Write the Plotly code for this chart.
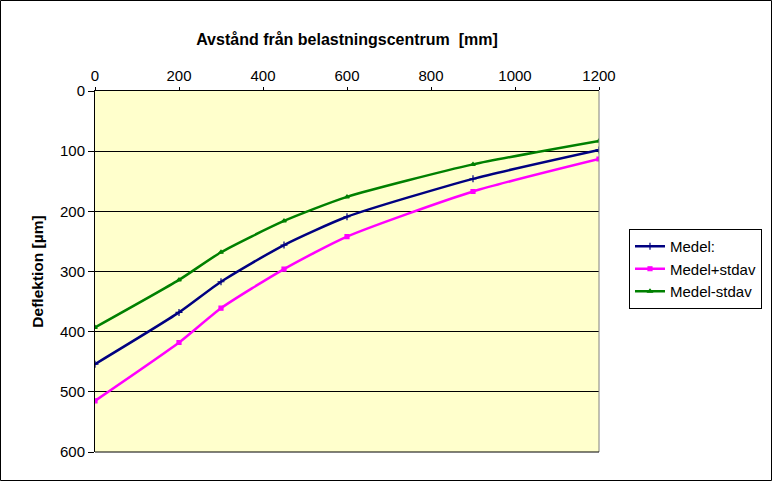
import plotly.graph_objects as go

distance_mm = [0, 200, 300, 450, 600, 900, 1200]
medel = [454, 368, 317, 256, 209, 146, 98]
medel_plus = [515, 418, 361, 296, 242, 167, 113]
medel_minus = [393, 314, 268, 216, 176, 122, 83]

W, H = 773, 482
ML, MR, MT, MB = 95, 174, 91, 30
PW, PH = W - ML - MR, H - MT - MB

FONT = "Liberation Sans, Arial, sans-serif"

fig = go.Figure()
series = [
    ("Medel:", medel, "#000080", "cross-thin", 5),
    ("Medel+stdav", medel_plus, "#FF00FF", "square", 4),
    ("Medel-stdav", medel_minus, "#008000", "triangle-up", 4),
]
for name, vals, col, sym, sz in series:
    fig.add_trace(go.Scatter(
        x=distance_mm, y=vals, name=name, mode="lines+markers",
        line=dict(color=col, width=2.5, shape="spline", smoothing=0.6),
        marker=dict(symbol=sym, size=sz, color=col, line=dict(color=col, width=1.2)),
    ))

fig.update_layout(
    width=W, height=H,
    margin=dict(l=ML, r=MR, t=MT, b=MB, autoexpand=False),
    paper_bgcolor="white", plot_bgcolor="#FFFFCC",
    font=dict(family=FONT, size=15, color="black"),
    showlegend=True,
    legend=dict(
        x=(629 - ML) / PW, y=1 - (229 - MT) / PH, xanchor="left", yanchor="top",
        bordercolor="black", borderwidth=1, bgcolor="white",
        font=dict(family=FONT, size=15), tracegroupgap=0, itemwidth=30,
    ),
    xaxis=dict(
        side="top", range=[0, 1200], dtick=200, tick0=0, automargin=False,
        showgrid=False, zeroline=False, showline=True, linecolor="black", linewidth=1,
        ticks="outside", ticklen=3, tickcolor="black",
        tickfont=dict(size=15),
        title=dict(text="<b>Avstånd från belastningscentrum  [mm]</b>", font=dict(size=16), standoff=17),
    ),
    yaxis=dict(
        range=[600, 0], dtick=100, tick0=0, automargin=False,
        showgrid=True, gridcolor="black", gridwidth=1, zeroline=False,
        showline=True, linecolor="black", linewidth=1,
        ticks="outside", ticklen=6, tickcolor="black",
        tickfont=dict(size=15),
        title=dict(text="<b>Deflektion [µm]</b>", font=dict(size=15.5), standoff=12),
    ),
    shapes=[
        dict(type="line", xref="paper", yref="paper", x0=1, x1=1, y0=0, y1=1,
             line=dict(color="#808080", width=1)),
        dict(type="line", xref="paper", yref="paper", x0=0, x1=1, y0=0, y1=0,
             line=dict(color="black", width=1)),
        dict(type="rect", xref="paper", yref="paper",
             x0=(0.5 - ML) / PW, x1=(W - 1.5 - ML) / PW,
             y0=-(MB - 1.5) / PH, y1=1 + (MT - 0.5) / PH,
             line=dict(color="black", width=1), layer="below"),
    ],
)

fig.write_html(
    "out.html",
    config={"displayModeBar": False},
    post_script="document.body.style.margin='0';document.body.style.overflow='hidden';",
)
